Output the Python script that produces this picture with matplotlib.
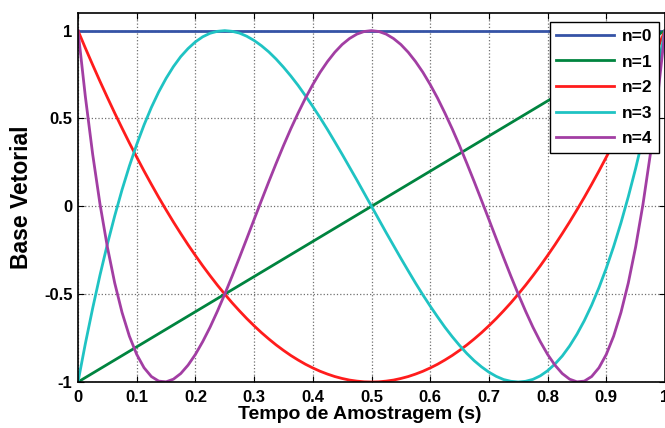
import matplotlib
matplotlib.use('Agg')
import matplotlib.pyplot as plt
import numpy as np

plt.rcParams['font.family'] = ['Liberation Sans', 'DejaVu Sans']
plt.rcParams['font.weight'] = 'bold'

# sample times (s) for the curved basis functions
t = np.linspace(0, 1, 81)

t_line = [0.0, 1.0]
n0 = [1.0, 1.0]
n1 = [-1.0, 1.0]
n2 = [1.0, 0.901, 0.805, 0.711, 0.62, 0.531, 0.445, 0.361, 0.28, 0.201,
      0.125, 0.051, -0.02, -0.089, -0.155, -0.219, -0.28, -0.339, -0.395, -0.449,
      -0.5, -0.549, -0.595, -0.639, -0.68, -0.719, -0.755, -0.789, -0.82, -0.849,
      -0.875, -0.899, -0.92, -0.939, -0.955, -0.969, -0.98, -0.989, -0.995, -0.999,
      -1.0,
      -0.999, -0.995, -0.989, -0.98, -0.969, -0.955, -0.939, -0.92, -0.899, -0.875,
      -0.849, -0.82, -0.789, -0.755, -0.719, -0.68, -0.639, -0.595, -0.549, -0.5,
      -0.449, -0.395, -0.339, -0.28, -0.219, -0.155, -0.089, -0.02, 0.051, 0.125,
      0.201, 0.28, 0.361, 0.445, 0.531, 0.62, 0.711, 0.805, 0.901, 1.0]
n3 = [-1.0, -0.782, -0.58, -0.391, -0.216, -0.055, 0.094, 0.229, 0.352, 0.463,
      0.563, 0.651, 0.728, 0.795, 0.852, 0.898, 0.936, 0.965, 0.985, 0.996,
      1.0, 0.996, 0.986, 0.968, 0.944, 0.914, 0.879, 0.838, 0.792, 0.742,
      0.688, 0.629, 0.568, 0.504, 0.437, 0.367, 0.296, 0.223, 0.15, 0.075,
      0.0,
      -0.075, -0.15, -0.223, -0.296, -0.367, -0.437, -0.504, -0.568, -0.629, -0.688,
      -0.742, -0.792, -0.838, -0.879, -0.914, -0.944, -0.968, -0.986, -0.996, -1.0,
      -0.996, -0.985, -0.965, -0.936, -0.898, -0.852, -0.795, -0.728, -0.651, -0.563,
      -0.463, -0.352, -0.229, -0.094, 0.055, 0.216, 0.391, 0.58, 0.782, 1.0]
n4 = [1.0, 0.625, 0.296, 0.012, -0.231, -0.436, -0.604, -0.739, -0.843, -0.919,
      -0.969, -0.995, -0.999, -0.984, -0.952, -0.904, -0.843, -0.77, -0.688, -0.597,
      -0.5, -0.398, -0.292, -0.184, -0.075, 0.033, 0.14, 0.244, 0.345, 0.441,
      0.531, 0.616, 0.693, 0.763, 0.824, 0.877, 0.921, 0.955, 0.98, 0.995,
      1.0,
      0.995, 0.98, 0.955, 0.921, 0.877, 0.824, 0.763, 0.693, 0.616, 0.531,
      0.441, 0.345, 0.244, 0.14, 0.033, -0.075, -0.184, -0.292, -0.398, -0.5,
      -0.597, -0.688, -0.77, -0.843, -0.904, -0.952, -0.984, -0.999, -0.995, -0.969,
      -0.919, -0.843, -0.739, -0.604, -0.436, -0.231, 0.012, 0.296, 0.625, 1.0]

series = [(t_line, n0), (t_line, n1), (t, n2), (t, n3), (t, n4)]
labels = ['n=0', 'n=1', 'n=2', 'n=3', 'n=4']
colors = ['#3553a6', '#00843f', '#ff1c1c', '#1fc3c3', '#a23ea3']

xticks = [0, 0.1, 0.2, 0.3, 0.4, 0.5, 0.6, 0.7, 0.8, 0.9, 1]
xticklabels = ['0', '0.1', '0.2', '0.3', '0.4', '0.5', '0.6', '0.7', '0.8', '0.9', '1']
yticks = [-1, -0.5, 0, 0.5, 1]
yticklabels = ['-1', '-0.5', '0', '0.5', '1']

fig = plt.figure(figsize=(6.65, 4.28), dpi=100)
ax = fig.add_axes([0.1173, 0.1075, 0.8827, 0.862])

for (x, y), lab, c in zip(series, labels, colors):
    ax.plot(x, y, color=c, lw=2.0, label=lab)

ax.set_xlim(0, 1)
ax.set_ylim(-1, 1.1)
ax.set_xticks(xticks)
ax.set_xticklabels(xticklabels)
ax.set_yticks(yticks)
ax.set_yticklabels(yticklabels)
ax.tick_params(direction='in', top=True, right=True, labelsize=12, length=4, width=0.8)
ax.tick_params(axis='x', pad=6)
ax.tick_params(axis='y', pad=4)
ax.grid(True, color='#707070', linestyle=':', linewidth=0.9)
for s in ax.spines.values():
    s.set_linewidth(1.2)

ax.set_xlabel('Tempo de Amostragem (s)', fontsize=14, fontweight='bold', labelpad=0)
ax.xaxis.set_label_coords(0.48, -0.065)
ax.set_ylabel('Base Vetorial', fontsize=16.5, fontweight='bold', labelpad=8)

leg = ax.legend(loc='upper right', bbox_to_anchor=(0.99, 0.976), fontsize=12.5,
                fancybox=False, framealpha=1, edgecolor='black', handlelength=3.3,
                handletextpad=0.45, borderpad=0.4, labelspacing=0.6, borderaxespad=0)
leg.get_frame().set_linewidth(1.0)
for txt in leg.get_texts():
    txt.set_fontweight('bold')

fig.savefig('out.png', dpi=100)
